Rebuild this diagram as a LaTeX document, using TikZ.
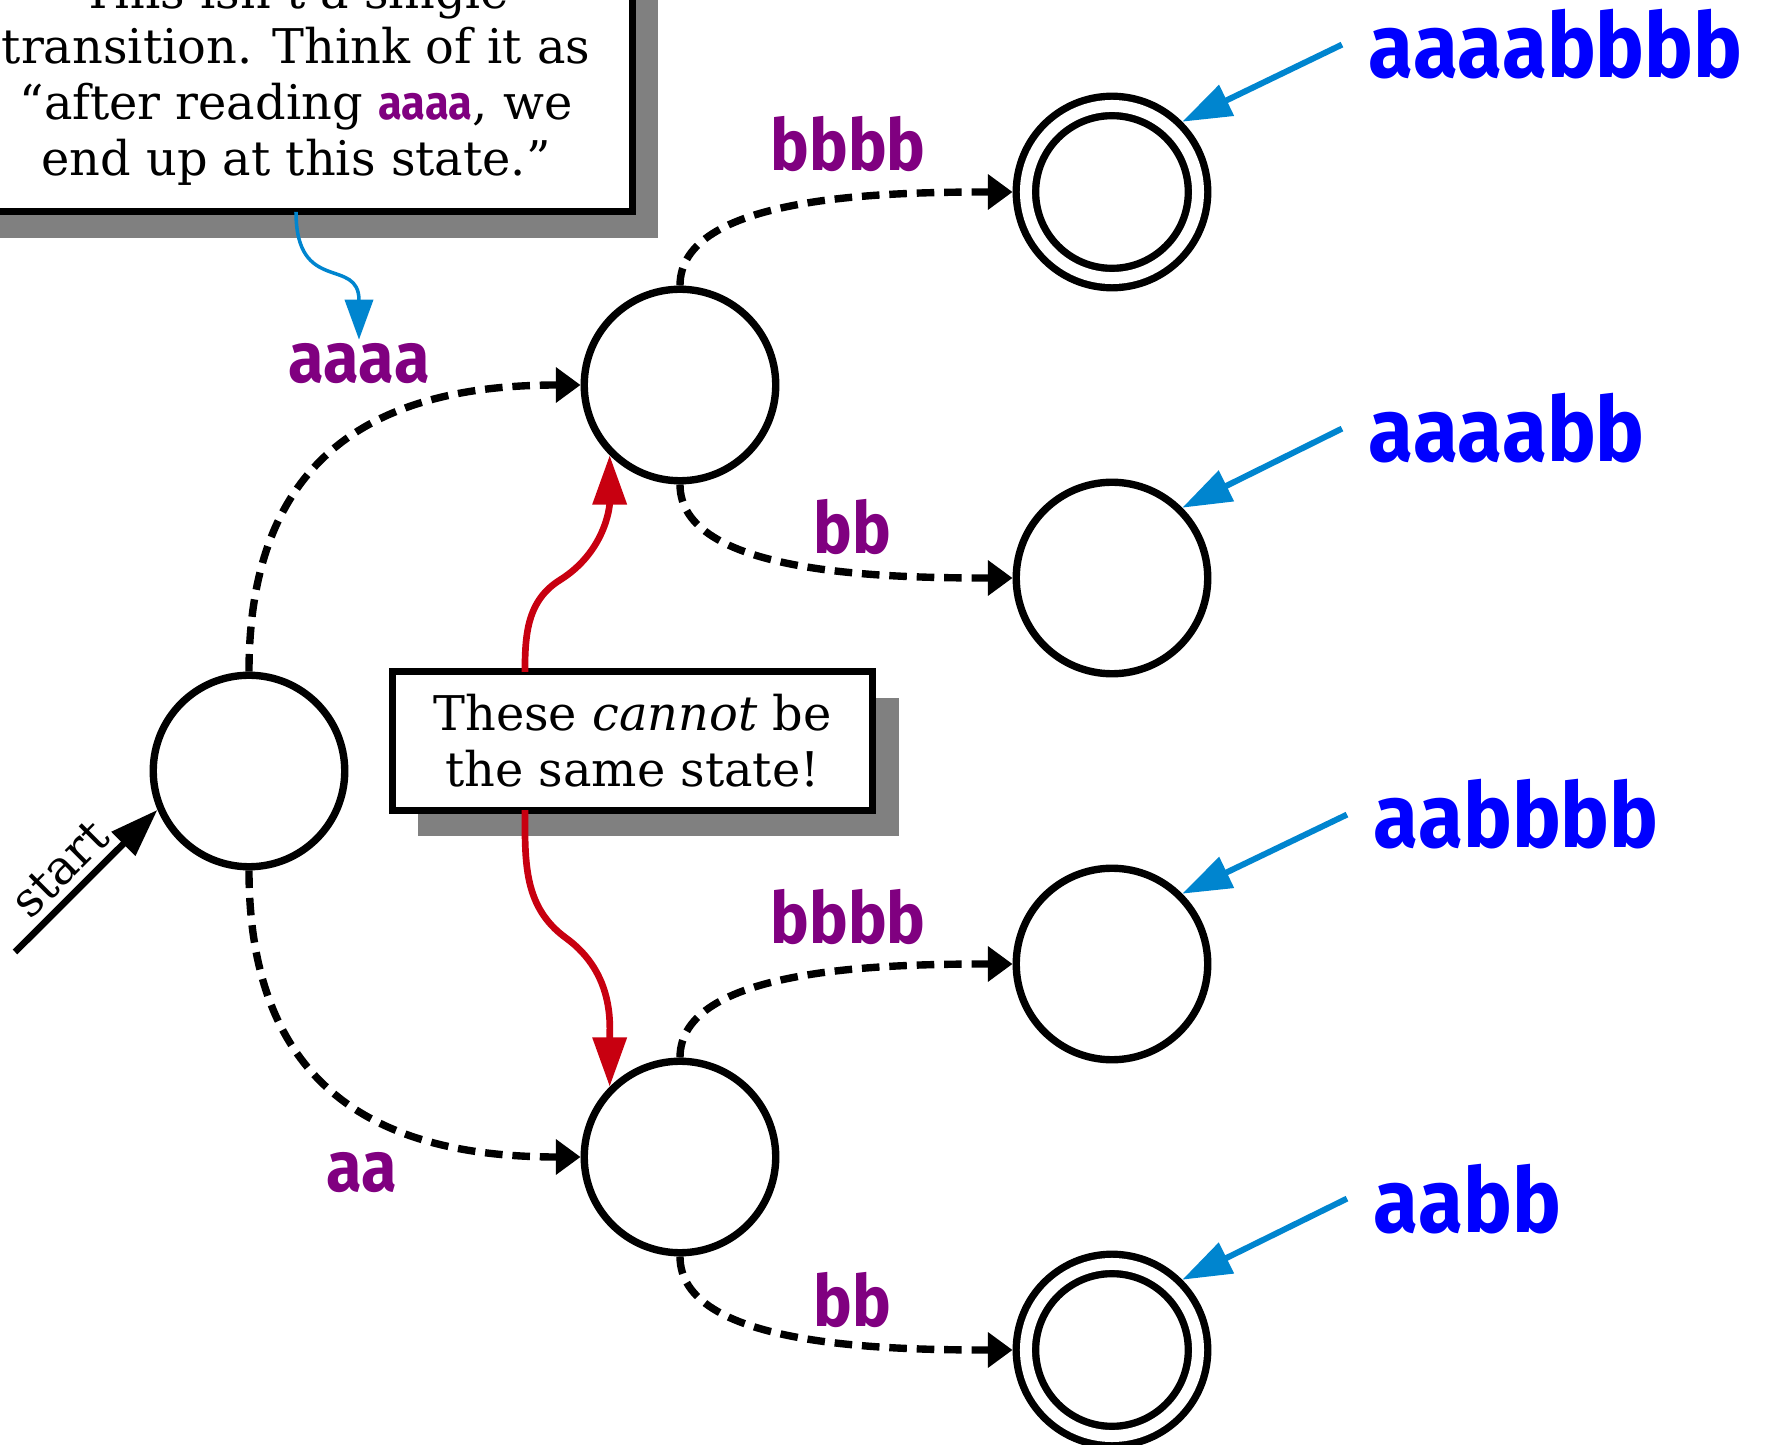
\documentclass[tikz,border=0pt]{standalone}
\usepackage{fontspec}
\setmainfont{DejaVu Serif}
\newfontfamily\labelfont{Fira Sans}[FakeStretch=0.91]
\usepackage{xcolor}
\usetikzlibrary{shapes,arrows.meta,shadows}
\definecolor{labelpurple}{RGB}{128,0,128}
\definecolor{stringblue}{RGB}{0,0,255}
\definecolor{pointerblue}{RGB}{0,133,207}
\definecolor{alertred}{RGB}{200,0,16}
\newcommand\notesize{\fontsize{13.6pt}{15.9pt}\selectfont}
\tikzset{
	state/.style = {circle, draw, fill = white, line width = 2.1pt, minimum size = 1.914cm, inner sep = 0pt, outer sep = 1.05pt},
	accepting/.style = {double, double distance = 3.4pt, minimum size = 1.72cm, outer sep = 3.8pt},
	readpath/.style = {line width = 2.1pt, dash pattern = on 5pt off 2.8pt, -{Triangle[length = 7pt, width = 9.7pt]}},
	redarrow/.style = {color = alertred, line width = 1.9pt, -{Triangle[length = 14pt, width = 9.4pt]}},
	stringpointer/.style = {color = pointerblue, line width = 1.7pt, -{Triangle[length = 14pt, width = 9.4pt]}},
	thinpointer/.style = {color = pointerblue, line width = 1pt, -{Triangle[length = 11.4pt, width = 8pt]}},
	startarrow/.style = {line width = 1.9pt, -{Triangle[length = 13.7pt, width = 9.2pt]}},
	notebox/.style = {draw, fill = white, line width = 2pt, inner sep = 0pt, outer sep = 0pt, align = center, font = \notesize,
		drop shadow = {shadow xshift = 0.26cm, shadow yshift = -0.26cm, fill = gray, opacity = 1}},
	pathlabel/.style = {font = \labelfont\bfseries\fontsize{20.3pt}{24pt}\selectfont, text = labelpurple, inner sep = 1pt, anchor = base},
	stringlabel/.style = {font = \labelfont\bfseries\fontsize{25.6pt}{30pt}\selectfont, text = stringblue, inner xsep = 7.4pt, inner ysep = 0pt, anchor = base west}
}
\begin{document}
\begin{tikzpicture}[x = 0.01cm, y = 0.01cm]
	\useasboundingbox (0,0) rectangle (1765,1444);
	\node[state] (q0) at (249,673) {};
	\node[state] (qA) at (680,1059) {};
	\node[state] (qB) at (680,287) {};
	\node[state, accepting] (s1) at (1112,1252) {};
	\node[state] (s2) at (1112,866) {};
	\node[state] (s3) at (1112,480) {};
	\node[state, accepting] (s4) at (1112,94) {};
	\node[notebox, minimum width = 6.72cm, minimum height = 2.66cm] (note) at (296,1365.3) {This isn't a single\\transition. Think of it as\\“after reading {\labelfont\bfseries\color{labelpurple}aaaa}, we\\end up at this state.”};
	\node[notebox, minimum width = 4.8cm, minimum height = 1.38cm] (warn) at (632.5,703) {These \textit{cannot} be\\the same state!};
	\node[pathlabel] (lblaaaa) at (359,1061) {aaaa};
	\node[pathlabel] (lblaa) at (362,252) {aa};
	\node[pathlabel] (lblAbbbb) at (848,1273) {bbbb};
	\node[pathlabel] (lblAbb) at (852,890) {bb};
	\node[pathlabel] (lblBbbbb) at (848,501) {bbbb};
	\node[pathlabel] (lblBbb) at (852,118) {bb};
	\node[stringlabel] (str1) at (1342,1366) {aaaabbbb};
	\node[stringlabel] (str2) at (1342,982) {aaaabb};
	\node[stringlabel] (str3) at (1347,596) {aabbbb};
	\node[stringlabel] (str4) at (1347,212) {aabb};
	\coordinate (startfoot) at (15,492);
	\coordinate (bendup) at (560,864);
	\coordinate (benddown) at (566,506);
	\draw[startarrow] (startfoot) -- node[pos = 0.45, above, sloped, inner sep = 2pt, font = \notesize] (startlbl) {start} (q0.203);
	\draw[readpath] (q0.north) .. controls +(0,235) and +(-180,0) .. (qA.west);
	\draw[readpath] (q0.south) .. controls +(0,-235) and +(-180,0) .. (qB.west);
	\draw[readpath] (qA.north) .. controls +(0,89) and +(-133,0) .. (s1.west);
	\draw[readpath] (qA.south) .. controls +(0,-89) and +(-133,0) .. (s2.west);
	\draw[readpath] (qB.north) .. controls +(0,89) and +(-133,0) .. (s3.west);
	\draw[readpath] (qB.south) .. controls +(0,-89) and +(-133,0) .. (s4.west);
	\draw[redarrow] ([xshift = -1.075cm]warn.north) to[out = 90, in = -148] (bendup) to[out = 32, in = -90] (qA.south west);
	\draw[redarrow] ([xshift = -1.075cm]warn.south) to[out = -90, in = 144] (benddown) to[out = -36, in = 90] (qB.north west);
	\draw[thinpointer] (note.south) to[out = -90, in = 90, looseness = 1.5] (lblaaaa.north);
	\draw[stringpointer] (str1.west) -- (s1.north east);
	\draw[stringpointer] (str2.west) -- (s2.north east);
	\draw[stringpointer] (str3.west) -- (s3.north east);
	\draw[stringpointer] (str4.west) -- (s4.north east);
\end{tikzpicture}
\end{document}
